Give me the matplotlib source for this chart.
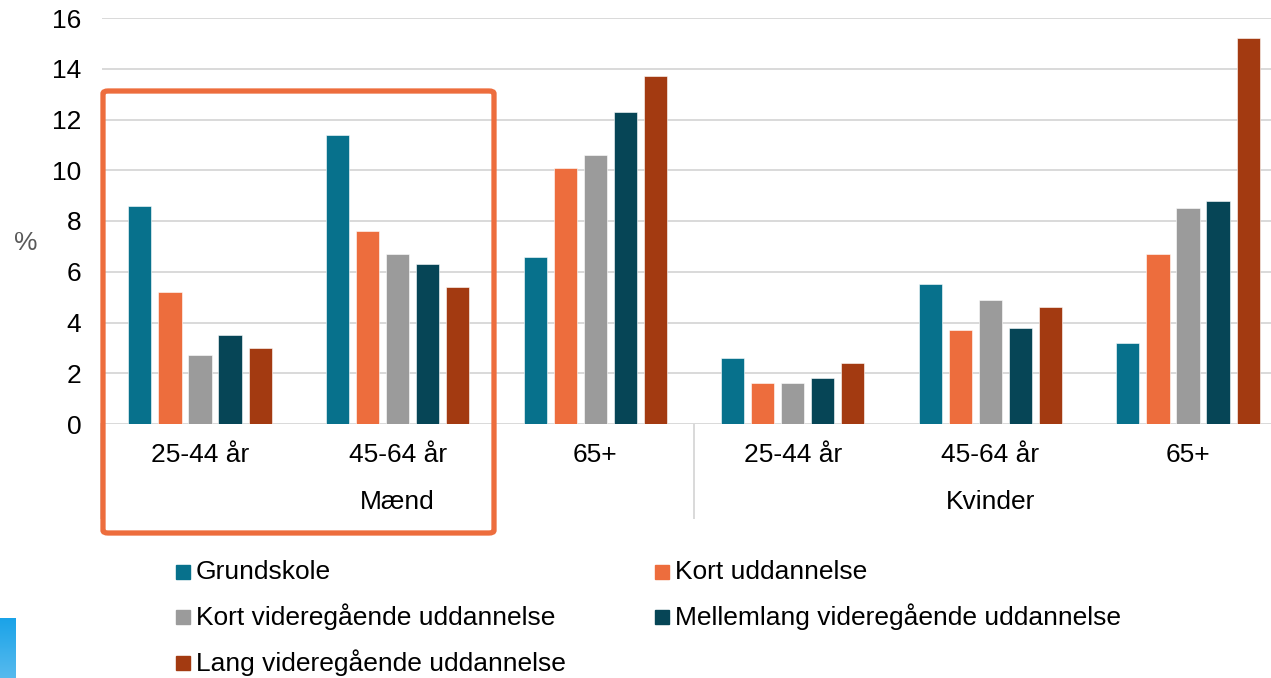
import matplotlib
matplotlib.use("Agg")
import matplotlib.pyplot as plt
import numpy as np
from matplotlib.patches import Rectangle, FancyBboxPatch
from matplotlib.colors import LinearSegmentedColormap

plt.rcParams['font.family'] = ['Liberation Sans', 'DejaVu Sans']

groups = ["Mænd", "Kvinder"]
ages = ["25-44 år", "45-64 år", "65+", "25-44 år", "45-64 år", "65+"]
series = ["Grundskole", "Kort uddannelse", "Kort videregående uddannelse",
          "Mellemlang videregående uddannelse", "Lang videregående uddannelse"]
colors = ["#07718C", "#ED6D3D", "#9B9B9B", "#064556", "#A33A11"]

grundskole = [8.6, 11.4, 6.6, 2.6, 5.5, 3.2]
kort_udd = [5.2, 7.6, 10.1, 1.6, 3.7, 6.7]
kort_vid = [2.7, 6.7, 10.6, 1.6, 4.9, 8.5]
mellemlang = [3.5, 6.3, 12.3, 1.8, 3.8, 8.8]
lang = [3.0, 5.4, 13.7, 2.4, 4.6, 15.2]
values = [grundskole, kort_udd, kort_vid, mellemlang, lang]

FS = 19
W, H = 1271, 678
fig = plt.figure(figsize=(W / 100, H / 100), dpi=100)
ax = fig.add_axes([102 / W, 1 - 424 / H, 1 - 102 / W, (424 - 18) / H])

x = np.arange(len(ages))
step = 0.152
bw = 0.117
for i, (vals, c) in enumerate(zip(values, colors)):
    ax.bar(x + (i - 2) * step, vals, width=bw, color=c, edgecolor="white",
           linewidth=0.4, zorder=3)

ax.set_xlim(-0.496, (W - 200) / 197.6)
ax.set_ylim(0, 16)
ax.set_yticks(np.arange(0, 17, 2))
ax.yaxis.grid(True, color="#D9D9D9", linewidth=1.4, zorder=0)
for s in ax.spines.values():
    s.set_visible(False)
ax.tick_params(axis="y", length=0, pad=15, labelsize=FS, labelcolor="#000000")
ax.tick_params(axis="x", length=0, pad=14, labelsize=FS, labelcolor="#000000")
ax.set_xticks(x)
ax.set_xticklabels(ages)

# group labels
for gi, g in enumerate(groups):
    ax.text(1 + 3 * gi, -3.07, g, ha="center", va="center", fontsize=FS,
            color="#000000", clip_on=False)
# separators
for sx in [-0.5, 2.5]:
    ax.plot([sx, sx], [0, -3.7], color="#D9D9D9", linewidth=1.4, clip_on=False)

fig.text(26 / W, 1 - 243 / H, "%", fontsize=FS, color="#595959",
         ha="center", va="center")

# highlight box
box = FancyBboxPatch((103 / W, 1 - 533 / H), (494 - 103) / W, (533 - 91) / H,
                     boxstyle="round,pad=0,rounding_size=0.004",
                     transform=fig.transFigure, fill=False,
                     edgecolor="#ED6D3D", linewidth=3.8, zorder=10)
fig.add_artist(box)

# legend
lx = [176, 655]
ly = [572, 617, 663]
for i, (name, c) in enumerate(zip(series, colors)):
    r, col = divmod(i, 2)
    fig.add_artist(Rectangle((lx[col] / W, 1 - (ly[r] + 7) / H), 14 / W, 14 / H,
                             transform=fig.transFigure, color=c))
    fig.text((lx[col] + 20) / W, 1 - ly[r] / H, name, fontsize=FS,
             color="#000000", ha="left", va="center")

# blue accent
gax = fig.add_axes([0, 0, 15 / W, 60 / H])
grad = np.linspace(0, 1, 100).reshape(-1, 1)
cmap = LinearSegmentedColormap.from_list("b", ["#1AA3E8", "#57BAEE"])
gax.imshow(grad, aspect="auto", cmap=cmap, extent=[0, 1, 0, 1])
gax.axis("off")

fig.savefig("out.png", dpi=100)
